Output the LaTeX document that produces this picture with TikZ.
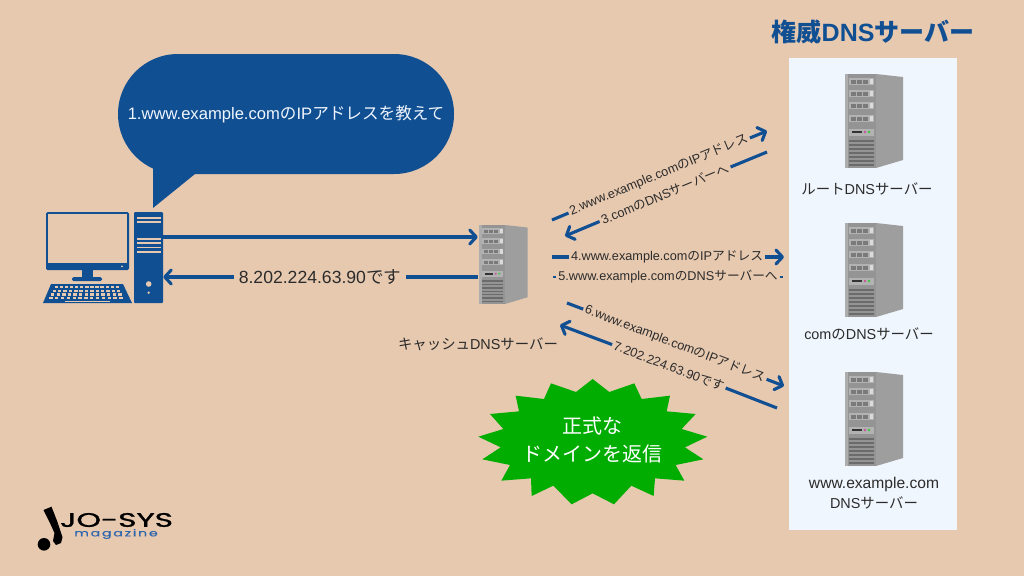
\documentclass[tikz,border=0pt]{standalone}
\usepackage{fontspec}
\setmainfont{Liberation Sans}
\newfontfamily\jpfont{Noto Sans CJK JP}
\newfontfamily\logofont[FakeBold=1.2]{Poppins}
\newfontfamily\logosubfont[LetterSpace=12, FakeBold=.6]{Poppins}
\newcommand{\jp}[1]{{\jpfont #1}}
\usetikzlibrary{arrows.meta}

\definecolor{bgTan}{HTML}{E7C9B0}
\definecolor{flowBlue}{HTML}{114F93}
\definecolor{logoBlue}{HTML}{2F66AE}
\definecolor{panelBlue}{HTML}{F0F6FE}
\definecolor{inkGrey}{HTML}{2B2B2B}
\definecolor{burstGreen}{HTML}{00AD00}

\tikzset{
	flowline/.style={flowBlue, line width=3.1pt},
	flowtip/.style={flowline, -{Straight Barb[length=6.5pt, width=14pt, round]}},
	flowlabel/.style={inkGrey, inner sep=2pt, font=\fontsize{12.7}{14}\selectfont},
	srvlabel/.style={inkGrey, inner sep=0pt, font=\fontsize{14.4}{20}\selectfont, align=center},
	serverpic/.pic={
		\fill[black!38] (31,0) -- (58,3) -- (58,86) -- (31,94) -- cycle;
		\fill[black!42] (0,0) rectangle (31,94);
		\fill[black!32] (0,0) rectangle (3,94);
		\foreach \y in {4,16,28,41} {
			\fill[black!30] (4,\y) rectangle (29,\y+7);
			\foreach \x in {6,12,18} {
				\fill[black!52] (\x,\y+1.5) rectangle (\x+4.5,\y+5.5);
			}
			\fill[black!14] (25,\y+1) rectangle (28,\y+6);
		}
		\fill[black!30] (4,54.5) rectangle (29,61.5);
		\fill[black!80] (7,57) rectangle (17,59);
		\fill[magenta!60!gray] (20,58) circle (1.3);
		\fill[green!55!gray] (24,58) circle (1.3);
		\foreach \y in {66,70,...,90} {
			\fill[black!58] (4,\y) rectangle (29,\y+1.6);
		}
	}
}

\begin{document}
\begin{tikzpicture}[x=1pt, y=-1pt]
	\useasboundingbox (0,0) rectangle (1024,576);
	\fill[bgTan] (0,0) rectangle (1024,576);

	\begin{scope}
		\fill[panelBlue] (789,58) rectangle (957,530);
		\node[flowBlue, font=\fontsize{25}{26}\bfseries\selectfont, inner sep=0pt] (authTitle) at (873,32) {\jp{権威}DNS\jp{サーバー}};
		\pic at (845,74) {serverpic};
		\pic at (845,223) {serverpic};
		\pic at (845,372) {serverpic};
		\node[srvlabel] (rootLabel) at (867,189) {\jp{ルート}DNS\jp{サーバー}};
		\node[srvlabel] (comLabel) at (869,334) {com\jp{の}DNS\jp{サーバー}};
		\node[srvlabel] (siteLabel) at (874,493) {{\fontsize{15.6}{20}\selectfont www.example.com}\\DNS\jp{サーバー}};
	\end{scope}

	\begin{scope}
		\fill[flowBlue, rounded corners=1.5pt] (46,212) rectangle (129,270);
		\fill[bgTan] (48,214) rectangle (127,262.5);
		\fill[bgTan] (122,266.3) circle (1);
		\fill[flowBlue] (82,270) rectangle (93,277);
		\fill[flowBlue, rounded corners=1.5pt] (72,277) rectangle (102,281);
		\fill[flowBlue] (51,284) -- (123,284) -- (132,303) -- (43,303) -- cycle;
		\foreach \r in {0,1,2,3} {
			\foreach \c in {0,...,12} {
				\fill[bgTan] ({54.5-\r*1.8+\c*(5.1+\r*.25)},{286+\r*3.7}) rectangle ++(3.4,2.2);
			}
		}
		\fill[bgTan] (65,301.2) rectangle (110,301.9);
		\node[fill=flowBlue, minimum width=29pt, minimum height=91pt, inner sep=0pt, rounded corners=1pt] (tower) at (148.5,257.5) {};
		\foreach \y in {218,221.7,238.7,242.7,247.3,251.7} {
			\fill[bgTan] (137.3,\y-.8) rectangle (160.7,\y+.8);
		}
		\fill[bgTan] (148.7,284) circle (2.8);
		\fill[bgTan] (148.7,292.7) circle (1.3);
	\end{scope}

	\begin{scope}
		\node[fill=flowBlue, minimum width=336pt, minimum height=120pt, rounded corners=59.9pt, inner sep=0pt, text=panelBlue, font=\fontsize{16.6}{18}\selectfont] (bubble) at (286,114) {1.www.example.com\jp{の}IP\jp{アドレスを教えて}};
		\fill[flowBlue] (153,165) -- (153,208) -- (195,174) -- (195,165) -- cycle;
	\end{scope}

	\begin{scope}
		\node[minimum width=50pt, minimum height=79pt, inner sep=0pt] (cache) at (503,264.5) {};
		\pic[scale=.84] at (479,225) {serverpic};
		\node[srvlabel] (cacheLabel) at (478,344) {\jp{キャッシュ}DNS\jp{サーバー}};
	\end{scope}

	\begin{scope}
		\coordinate (reqRow) at (320,237);
		\coordinate (ansRow) at (320,277);
		\node[inkGrey, inner sep=5pt, font=\fontsize{17.6}{18}\selectfont] (ansLabel) at (320,277) {8.202.224.63.90\jp{です}};
		\draw[flowtip] (tower.east |- reqRow) -- (cache.west |- reqRow);
		\draw[flowline] (cache.west |- ansRow) -- (ansLabel);
		\draw[flowtip] (ansLabel) -- (tower.east |- ansRow);
	\end{scope}

	\begin{scope}
		\coordinate (s2) at (552,220);
		\coordinate (e2) at (767,131);
		\coordinate (s3) at (767,152);
		\coordinate (e3) at (565,236);
		\coordinate (s4) at (552,257);
		\coordinate (e4) at (784,257);
		\coordinate (s5) at (553,277);
		\coordinate (e5) at (783,277);
		\coordinate (s6) at (567,303);
		\coordinate (e6) at (784,386);
		\coordinate (s7) at (777,408);
		\coordinate (e7) at (560,325);

		\node[flowlabel, rotate=22.5] (lab2) at (659,175) {2.www.example.com\jp{の}IP\jp{アドレス}};
		\node[flowlabel, rotate=22.5] (lab3) at (665,194) {3.com\jp{の}DNS\jp{サーバーへ}};
		\node[flowlabel] (lab4) at (667,257) {4.www.example.com\jp{の}IP\jp{アドレス}};
		\node[flowlabel] (lab5) at (668,277) {5.www.example.com\jp{の}DNS\jp{サーバーへ}};
		\node[flowlabel, rotate=-21] (lab6) at (675,344) {6.www.example.com\jp{の}IP\jp{アドレス}};
		\node[flowlabel, rotate=-21] (lab7) at (669,366) {7.202.224.63.90\jp{です}};

		\foreach \s/\l/\e in {s2/lab2/e2, s3/lab3/e3, s4/lab4/e4, s6/lab6/e6, s7/lab7/e7} {
			\draw[flowline] (\s) -- (\l);
			\draw[flowtip] (\l) -- (\e);
		}
		\draw[flowline, line width=2pt] (s5) -- (lab5);
		\draw[flowline, line width=2pt] (lab5) -- (e5);
	\end{scope}

	\begin{scope}[shift={(470,370)}, x=.3333pt, y=-.3333pt]
		\fill[burstGreen] (25,200) -- (100,177) -- (60,132) -- (147,124) -- (137,77) -- (222,87) -- (243,40) -- (318,66) -- (368,27) -- (418,66) -- (493,40) -- (515,87) -- (600,77) -- (590,124) -- (677,132) -- (635,177) -- (712,200) -- (645,232) -- (700,268) -- (617,285) -- (643,332) -- (555,325) -- (551,378) -- (484,347) -- (432,403) -- (368,370) -- (305,403) -- (250,347) -- (185,378) -- (183,325) -- (94,332) -- (120,285) -- (37,268) -- (92,232) -- cycle;
	\end{scope}
	\node[text=white, align=center, inner sep=0pt, font=\jpfont\fontsize{20}{28}\selectfont] (burstText) at (592,440) {正式な\\ドメインを返信};

	\begin{scope}
		\fill[black] (44,544.3) circle (6.3);
		\fill[black] (43.5,510) -- (51.5,506.7) -- (57.5,522) -- (62.5,537) -- (61,543) -- (56,545) -- (53,541) -- (54.5,533) -- (49.5,522) -- cycle;
		\node[font=\logofont\fontsize{19.5}{20}\selectfont, xscale=1.6, inner sep=0pt] (logoName) at (116.5,520) {JO-SYS};
		\node[logoBlue, font=\logosubfont\fontsize{9.5}{10}\selectfont, xscale=1.5, inner sep=0pt] (logoSub) at (116,534) {magazine};
	\end{scope}
\end{tikzpicture}
\end{document}
